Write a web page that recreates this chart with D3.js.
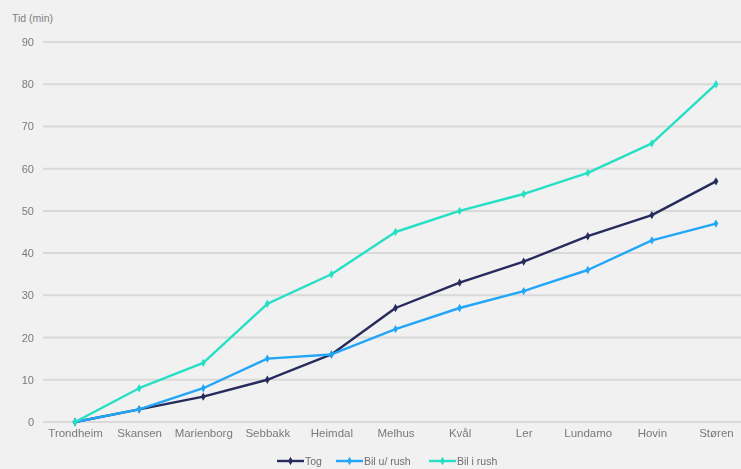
<!DOCTYPE html>
<html>
<head>
<meta charset="utf-8">
<script src="https://cdn.jsdelivr.net/npm/d3@7"></script>
<style>
  html, body { margin: 0; padding: 0; background: #f1f1f1; }
  svg { display: block; }
</style>
</head>
<body>
<svg id="chart" width="741" height="469"></svg>
<script>
// Stations along the line and travel time (minutes) from Trondheim
const stations = ["Trondheim", "Skansen", "Marienborg", "Sebbakk", "Heimdal", "Melhus", "Kvål", "Ler", "Lundamo", "Hovin", "Støren"];
const tog      = [0, 3, 6, 10, 16, 27, 33, 38, 44, 49, 57];
const bilURush = [0, 3, 8, 15, 16, 22, 27, 31, 36, 43, 47];
const bilIRush = [0, 8, 14, 28, 35, 45, 50, 54, 59, 66, 80];
const yTicks   = [0, 10, 20, 30, 40, 50, 60, 70, 80, 90];
const seriesNames = ["Tog", "Bil u/ rush", "Bil i rush"];

const series = [
  { name: seriesNames[0], values: tog,      color: "#272b5c" },
  { name: seriesNames[1], values: bilURush, color: "#22a6f7" },
  { name: seriesNames[2], values: bilIRush, color: "#25e0c6" }
];

const svg = d3.select("#chart");
const W = 741, H = 469;
const plot = { left: 43, right: 748, top: 42, bottom: 422 };
const font = "Liberation Sans, Arial, sans-serif";

svg.append("rect").attr("width", W).attr("height", H).attr("fill", "#f1f1f1");

const defs = svg.append("defs");
defs.append("filter").attr("id", "soft")
  .append("feGaussianBlur").attr("stdDeviation", 0.6);

const x = d3.scalePoint().domain(stations).range([plot.left, plot.right]).padding(0.5);
const y = d3.scaleLinear().domain([0, 90]).range([plot.bottom, plot.top]);

const g = svg.append("g").attr("filter", "url(#soft)");

// horizontal gridlines
g.append("g").selectAll("line").data(yTicks).join("line")
  .attr("x1", plot.left).attr("x2", W)
  .attr("y1", d => y(d)).attr("y2", d => y(d))
  .attr("stroke", "#d9d9d9").attr("stroke-width", 2);

// y axis labels
const yAxis = d3.axisLeft(y).tickValues(yTicks).tickSize(0).tickPadding(0);
const ya = g.append("g").attr("transform", `translate(34,0)`).call(yAxis);
ya.select(".domain").remove();
ya.selectAll("text").attr("fill", "#7a7a7a").style("font-family", font).style("font-size", "11px");

// x axis labels
const xAxis = d3.axisBottom(x).tickSize(0).tickPadding(0);
const xa = g.append("g").attr("transform", `translate(0,429)`).call(xAxis);
xa.select(".domain").remove();
xa.selectAll("text").attr("fill", "#7a7a7a").style("font-family", font).style("font-size", "11.5px");

// series lines with small diamond markers
const line = d3.line()
  .x((d, i) => x(stations[i]))
  .y(d => y(d));

const diamond = d3.symbol().type(d3.symbolDiamond).size(20);

series.forEach(s => {
  const sg = g.append("g");
  sg.append("path").datum(s.values)
    .attr("d", line).attr("fill", "none")
    .attr("stroke", s.color).attr("stroke-width", 2.4)
    .attr("stroke-linejoin", "round").attr("stroke-linecap", "round");
  sg.selectAll("path.m").data(s.values).join("path").attr("class", "m")
    .attr("d", diamond)
    .attr("transform", (d, i) => `translate(${x(stations[i])},${y(d)})`)
    .attr("fill", s.color);
});

// legend
const legendX = [277, 336, 429];
const lg = g.append("g");
series.forEach((s, i) => {
  const lx = legendX[i], ly = 461;
  lg.append("line").attr("x1", lx).attr("x2", lx + 27).attr("y1", ly).attr("y2", ly)
    .attr("stroke", s.color).attr("stroke-width", 2.4);
  lg.append("path").attr("d", diamond).attr("transform", `translate(${lx + 13.5},${ly})`).attr("fill", s.color);
  lg.append("text").attr("x", lx + 28).attr("y", ly + 3.5).text(s.name)
    .attr("fill", "#6e6e6e").style("font-family", font).style("font-size", "10.5px");
});

// axis title
svg.append("text").attr("x", 12).attr("y", 22).text("Tid (min)")
  .attr("fill", "#808080").style("font-family", font).style("font-size", "10.5px");
</script>
</body>
</html>
